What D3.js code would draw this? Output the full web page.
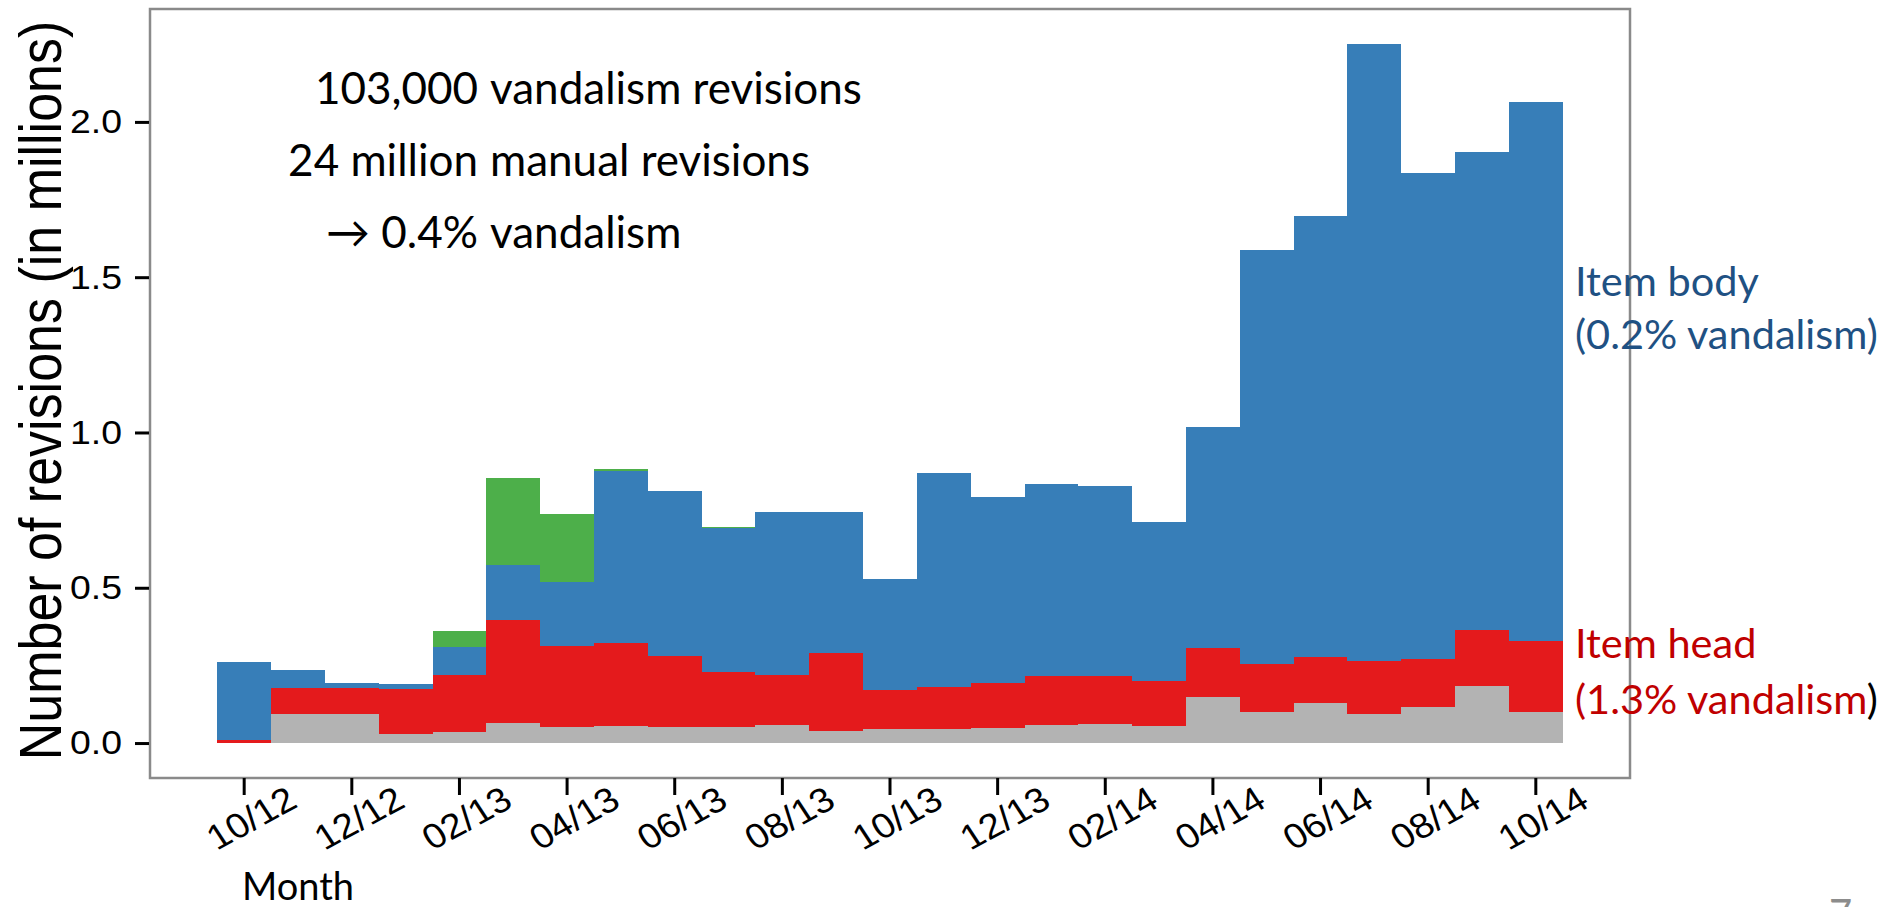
<!DOCTYPE html>
<html>
<head>
<meta charset="utf-8">
<title>Revisions per month</title>
<script src="https://d3js.org/d3.v7.min.js"></script>
<style>
  body { margin: 0; background: #fff; }
  .plot-text { font-family: "Liberation Sans", Arial, sans-serif; fill: #000; }
  .slide-text { font-family: Lato, "Open Sans", sans-serif; }
</style>
</head>
<body>
<div id="chart"></div>
<script>
// months on the x axis (10/12 .. 10/14)
var months = ["10/12","11/12","12/12","01/13","02/13","03/13","04/13","05/13","06/13",
              "07/13","08/13","09/13","10/13","11/13","12/13","01/14","02/14","03/14",
              "04/14","05/14","06/14","07/14","08/14","09/14","10/14"];
var tickMonths = months.filter(function(d, i) { return i % 2 === 0; });
var yTicks = [0, 0.5, 1.0, 1.5, 2.0];

// revisions per month in millions, one array per stacked layer (bottom to top)
var misc     = [0, 0.095, 0.095, 0.029, 0.036, 0.065, 0.051, 0.054, 0.052, 0.051, 0.058, 0.039, 0.044,
                0.045, 0.050, 0.057, 0.061, 0.055, 0.149, 0.101, 0.128, 0.092, 0.115, 0.183, 0.101];
var itemHead = [0.011, 0.083, 0.083, 0.145, 0.182, 0.331, 0.262, 0.267, 0.227, 0.179, 0.160, 0.251, 0.126,
                0.135, 0.144, 0.159, 0.155, 0.144, 0.157, 0.155, 0.149, 0.173, 0.157, 0.180, 0.227];
var itemBody = [0.251, 0.056, 0.015, 0.017, 0.092, 0.178, 0.204, 0.556, 0.533, 0.462, 0.526, 0.454, 0.357,
                0.688, 0.598, 0.618, 0.612, 0.512, 0.713, 1.331, 1.419, 1.986, 1.564, 1.540, 1.736];
var other    = [0, 0, 0, 0, 0.051, 0.279, 0.219, 0.005, 0, 0.005, 0, 0, 0,
                0, 0, 0, 0, 0, 0, 0, 0, 0, 0, 0, 0];

var layerKeys = ["misc", "itemHead", "itemBody", "other"];
var layerColors = {misc: "#b3b3b3", itemHead: "#e41a1c", itemBody: "#377eb8", other: "#4daf4a"};

var rows = months.map(function(m, i) {
  return {month: m, misc: misc[i], itemHead: itemHead[i], itemBody: itemBody[i], other: other[i]};
});
var series = d3.stack().keys(layerKeys)(rows);

var width = 1885, height = 907;
var panel = {left: 150, right: 1630, top: 9, bottom: 778};

var svg = d3.select("#chart")
  .append("svg")
    .attr("width", width)
    .attr("height", height);

svg.append("rect").attr("width", width).attr("height", height).attr("fill", "#fff");

// x: one band per month, ggplot style 5% expansion on both sides
var x = d3.scaleBand()
  .domain(months)
  .range([panel.left, panel.right])
  .paddingInner(0)
  .paddingOuter(1.25);

var maxTotal = d3.max(series[series.length - 1], function(d) { return d[1]; });
var pad = maxTotal * 0.05;
var y = d3.scaleLinear()
  .domain([-pad, maxTotal + pad])
  .range([panel.bottom, panel.top]);

// stacked bars
svg.append("g")
  .selectAll("g")
  .data(series)
  .enter()
  .append("g")
    .attr("fill", function(s) { return layerColors[s.key]; })
  .selectAll("rect")
  .data(function(s) { return s; })
  .enter()
  .append("rect")
    .attr("x", function(d) { return x(d.data.month); })
    .attr("width", x.bandwidth())
    .attr("y", function(d) { return y(d[1]); })
    .attr("height", function(d) { return y(d[0]) - y(d[1]); })
    .attr("shape-rendering", "crispEdges");

// panel border
svg.append("rect")
  .attr("x", panel.left)
  .attr("y", panel.top)
  .attr("width", panel.right - panel.left)
  .attr("height", panel.bottom - panel.top)
  .attr("fill", "none")
  .attr("stroke", "#8a8a8a")
  .attr("stroke-width", 2.5);

// y axis
var yAxis = svg.append("g")
  .attr("class", "plot-text")
  .attr("transform", "translate(" + (panel.left - 1) + ",0)")
  .call(d3.axisLeft(y).tickValues(yTicks).tickFormat(d3.format(".1f")).tickSize(14).tickSizeOuter(0));
yAxis.select(".domain").remove();
yAxis.selectAll(".tick line").attr("stroke", "#000").attr("stroke-width", 3);
yAxis.selectAll(".tick text")
  .attr("x", -27 / 1.1)
  .attr("transform", "scale(1.1,1)")
  .style("font-size", "34px")
  .style("font-family", "'Liberation Sans', Arial, sans-serif")
  .attr("fill", "#000");

// x axis
var xAxis = svg.append("g")
  .attr("class", "plot-text")
  .attr("transform", "translate(0," + panel.bottom + ")")
  .call(d3.axisBottom(x).tickValues(tickMonths).tickSize(17).tickSizeOuter(0));
xAxis.select(".domain").remove();
xAxis.selectAll(".tick line").attr("stroke", "#000").attr("stroke-width", 3);
xAxis.selectAll(".tick text")
  .attr("x", 0)
  .attr("y", 0)
  .attr("dy", "0.35em")
  .attr("text-anchor", "middle")
  .attr("transform", "translate(7,40) scale(1.1,1) rotate(-31)")
  .style("font-size", "35px")
  .style("font-family", "'Liberation Sans', Arial, sans-serif")
  .attr("fill", "#000");

// y axis title
svg.append("text")
  .attr("class", "plot-text")
  .attr("transform", "translate(61," + ((panel.top + panel.bottom) / 2 - 3) + ") scale(1.13,1) rotate(-90)")
  .attr("text-anchor", "middle")
  .style("font-size", "52px")
  .text("Number of revisions (in millions)");

// slide annotations
var notes = [
  {num: "103,000", word: "vandalism revisions", y: 104},
  {num: "24 million", word: "manual revisions", y: 176},
  {num: "\u2192 0.4%", word: "vandalism", y: 248}
];
var noteG = svg.append("g").attr("class", "slide-text").style("font-size", "44px");
noteG.selectAll(".num")
  .data(notes)
  .enter()
  .append("text")
    .attr("x", 478)
    .attr("y", function(d) { return d.y; })
    .attr("text-anchor", "end")
    .text(function(d) { return d.num; });
noteG.selectAll(".word")
  .data(notes)
  .enter()
  .append("text")
    .attr("x", 490)
    .attr("y", function(d) { return d.y; })
    .text(function(d) { return d.word; });

// series labels on the right
var lab = svg.append("g").attr("class", "slide-text").style("font-size", "41.5px");
lab.append("text").attr("x", 1575).attr("y", 296).attr("fill", "#1f5183").text("Item body");
lab.append("text").attr("x", 1575).attr("y", 349).attr("fill", "#1f5183").text("(0.2% vandalism)");
lab.append("text").attr("x", 1575).attr("y", 658).attr("fill", "#c00000").text("Item head");
var headNote = lab.append("text").attr("x", 1575).attr("y", 714).attr("fill", "#c00000");
headNote.append("tspan").text("(1.3% vandalism");
headNote.append("tspan").attr("fill", "#000").text(")");

// x axis title
svg.append("text")
  .attr("class", "slide-text")
  .attr("x", 242)
  .attr("y", 900)
  .style("font-size", "38px")
  .text("Month");

// slide number, cut off at the bottom edge as on the slide
svg.append("text")
  .attr("class", "slide-text")
  .attr("x", 1829)
  .attr("y", 928)
  .attr("fill", "#8c8c8c")
  .style("font-size", "40px")
  .text("7");
</script>
</body>
</html>
